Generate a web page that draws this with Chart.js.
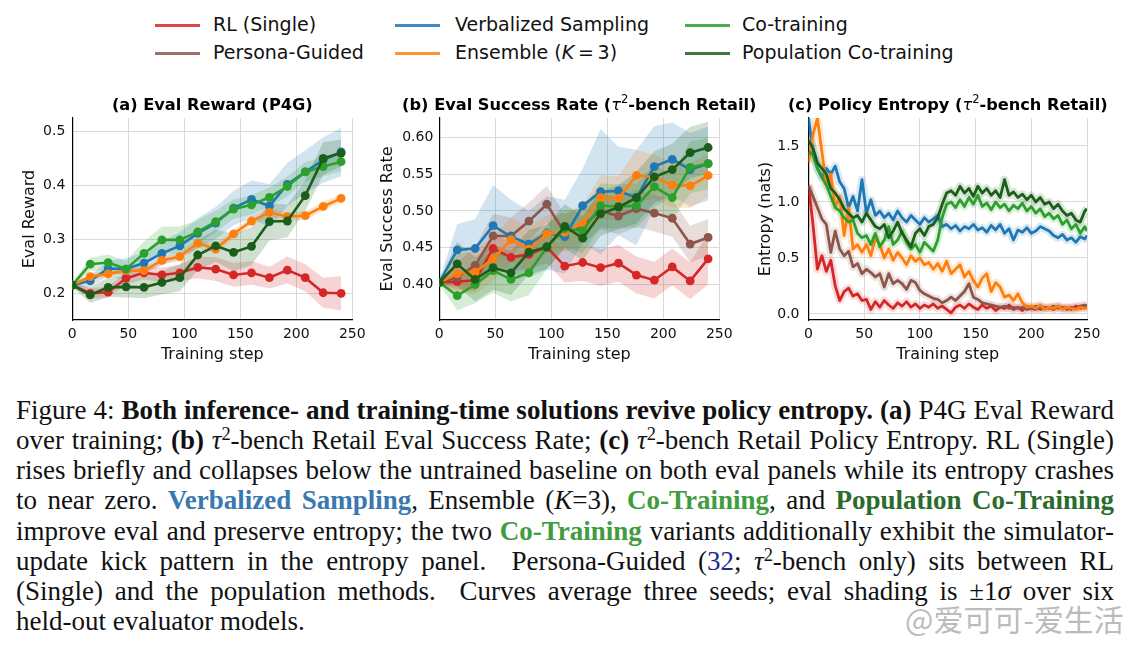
<!DOCTYPE html>
<html>
<head>
<meta charset="utf-8">
<script src="https://cdn.jsdelivr.net/npm/chart.js@4.4.1/dist/chart.umd.min.js"></script>
<style>
html, body { margin: 0; padding: 0; background: #fff; }
body { width: 1134px; height: 645px; position: relative; overflow: hidden; font-family: "DejaVu Sans"; }
canvas { position: absolute; }
.hd { position: absolute; height: 3px; width: 45px; }
.lt { position: absolute; font-size: 19px; line-height: 19px; color: #111; white-space: nowrap; }
#caption { position: absolute; left: 16px; top: 395px; width: 1098px; font-family: "Liberation Serif"; font-size: 27px; line-height: 30.15px; color: #111; }
#caption div { text-align: justify; text-align-last: justify; white-space: nowrap; }
#caption div.last { text-align-last: left; }
#caption sup { font-size: 0.68em; line-height: 0; vertical-align: 0.5em; }
.vs { color: #3a78b0; }
.ct { color: #3f9c3f; }
.pct { color: #2b6b2b; }
.cite { color: #1f2a8f; }
#wm { position: absolute; left: 905px; top: 600px; font-family: "Noto Sans CJK SC"; font-size: 30px; line-height: 36px; color: rgba(165,165,165,0.75); white-space: nowrap; }
</style>
</head>
<body>
<canvas id="panelA" width="372" height="280" style="left:0px;top:90px;width:372px;height:280px"></canvas>
<canvas id="panelB" width="400" height="280" style="left:372px;top:90px;width:400px;height:280px"></canvas>
<canvas id="panelC" width="382" height="280" style="left:752px;top:90px;width:382px;height:280px"></canvas>

<div id="legend"></div>

<div id="caption">
<div>Figure 4: <b>Both inference- and training-time solutions revive policy entropy.</b> <b>(a)</b> P4G Eval Reward</div>
<div>over training; <b>(b)</b> <i>τ</i><sup>2</sup>-bench Retail Eval Success Rate; <b>(c)</b> <i>τ</i><sup>2</sup>-bench Retail Policy Entropy. RL (Single)</div>
<div>rises briefly and collapses below the untrained baseline on both eval panels while its entropy crashes</div>
<div>to near zero. <b class="vs">Verbalized Sampling</b>, Ensemble (<i>K</i>=3), <b class="ct">Co-Training</b>, and <b class="pct">Population Co-Training</b></div>
<div>improve eval and preserve entropy; the two <b class="ct">Co-Training</b> variants additionally exhibit the simulator-</div>
<div>update kick pattern in the entropy panel.&nbsp; Persona-Guided (<span class="cite">32</span>; <i>τ</i><sup>2</sup>-bench only) sits between RL</div>
<div>(Single) and the population methods.&nbsp; Curves average three seeds; eval shading is ±1<i>σ</i> over six</div>
<div class="last">held-out evaluator models.</div>
</div>
<div id="wm">@爱可可-爱生活</div>

<script>
// ---- data ----
const evalSteps = [0, 16, 32, 48, 64, 80, 96, 112, 128, 144, 160, 176, 192, 208, 224, 240];

// (a) P4G eval reward, mean and +-1 sd
const p4gRL = [0.215, 0.200, 0.202, 0.228, 0.238, 0.234, 0.238, 0.248, 0.245, 0.234, 0.238, 0.229, 0.243, 0.229, 0.201, 0.200];
const p4gRLsd = [0.004, 0.010, 0.010, 0.012, 0.012, 0.014, 0.015, 0.020, 0.022, 0.022, 0.022, 0.020, 0.025, 0.025, 0.028, 0.032];
const p4gVS = [0.215, 0.223, 0.246, 0.245, 0.256, 0.274, 0.288, 0.311, 0.330, 0.358, 0.374, 0.362, 0.402, 0.425, 0.447, 0.462];
const p4gVSsd = [0.004, 0.010, 0.015, 0.020, 0.020, 0.022, 0.025, 0.028, 0.030, 0.032, 0.035, 0.040, 0.040, 0.040, 0.042, 0.045];
const p4gEns = [0.215, 0.231, 0.236, 0.242, 0.242, 0.261, 0.268, 0.293, 0.282, 0.310, 0.334, 0.350, 0.342, 0.344, 0.361, 0.376];
const p4gEnssd = [0.003, 0.006, 0.006, 0.006, 0.006, 0.007, 0.008, 0.008, 0.008, 0.008, 0.008, 0.008, 0.008, 0.008, 0.008, 0.008];
const p4gCT = [0.215, 0.254, 0.257, 0.245, 0.274, 0.299, 0.299, 0.314, 0.333, 0.356, 0.364, 0.378, 0.398, 0.425, 0.435, 0.444];
const p4gCTsd = [0.004, 0.012, 0.015, 0.015, 0.022, 0.025, 0.025, 0.022, 0.020, 0.018, 0.018, 0.018, 0.018, 0.018, 0.018, 0.018];
const p4gPCT = [0.215, 0.197, 0.211, 0.212, 0.211, 0.220, 0.229, 0.271, 0.288, 0.276, 0.287, 0.333, 0.334, 0.381, 0.450, 0.460];
const p4gPCTsd = [0.004, 0.015, 0.018, 0.020, 0.020, 0.022, 0.025, 0.028, 0.030, 0.035, 0.035, 0.035, 0.030, 0.028, 0.030, 0.025];

// (b) tau2-bench retail eval success rate
const tauRL = [0.403, 0.404, 0.406, 0.449, 0.437, 0.441, 0.451, 0.425, 0.430, 0.423, 0.429, 0.413, 0.406, 0.424, 0.405, 0.435];
const tauRLsd = [0.003, 0.010, 0.015, 0.020, 0.020, 0.020, 0.022, 0.022, 0.025, 0.025, 0.025, 0.025, 0.025, 0.025, 0.025, 0.035];
const tauPersona = [0.403, 0.410, 0.426, 0.466, 0.466, 0.486, 0.509, 0.470, 0.480, 0.500, 0.493, 0.503, 0.497, 0.490, 0.455, 0.464];
const tauPersonasd = [0.003, 0.020, 0.025, 0.030, 0.025, 0.025, 0.025, 0.025, 0.025, 0.025, 0.025, 0.025, 0.025, 0.025, 0.025, 0.025];
const tauVS = [0.403, 0.447, 0.449, 0.480, 0.465, 0.455, 0.470, 0.465, 0.507, 0.526, 0.527, 0.518, 0.560, 0.570, 0.556, 0.564];
const tauVSsd = [0.003, 0.035, 0.040, 0.055, 0.050, 0.045, 0.050, 0.050, 0.050, 0.085, 0.060, 0.065, 0.055, 0.050, 0.050, 0.050];
const tauEns = [0.403, 0.415, 0.417, 0.435, 0.461, 0.448, 0.469, 0.471, 0.483, 0.518, 0.517, 0.548, 0.546, 0.535, 0.534, 0.548];
const tauEnssd = [0.003, 0.025, 0.030, 0.030, 0.030, 0.030, 0.025, 0.025, 0.025, 0.030, 0.030, 0.035, 0.030, 0.030, 0.030, 0.030];
const tauCT = [0.403, 0.385, 0.400, 0.419, 0.407, 0.416, 0.451, 0.476, 0.473, 0.507, 0.506, 0.507, 0.533, 0.518, 0.559, 0.564];
const tauCTsd = [0.003, 0.020, 0.025, 0.030, 0.030, 0.030, 0.030, 0.025, 0.030, 0.030, 0.030, 0.030, 0.030, 0.030, 0.035, 0.035];
const tauPCT = [0.403, 0.428, 0.407, 0.423, 0.416, 0.444, 0.451, 0.479, 0.463, 0.496, 0.505, 0.518, 0.546, 0.556, 0.579, 0.586];
const tauPCTsd = [0.003, 0.030, 0.030, 0.030, 0.030, 0.030, 0.030, 0.030, 0.030, 0.030, 0.030, 0.035, 0.035, 0.035, 0.035, 0.035];

// (c) policy entropy (nats)
const entropySteps = [0, 4, 8, 12, 16, 20, 24, 28, 32, 36, 40, 44, 48, 52, 56, 60, 64, 68, 72, 76, 80, 84, 88, 92, 96, 100,
  104, 108, 112, 116, 120, 124, 128, 132, 136, 140, 144, 148, 152, 156, 160, 164, 168, 172, 176, 180, 184, 188, 192, 196,
  200, 204, 208, 212, 216, 220, 224, 228, 232, 236, 240, 244, 248, 250];
const entRL = [1.15, 0.80, 0.40, 0.52, 0.38, 0.48, 0.25, 0.12, 0.20, 0.23, 0.16, 0.18, 0.12, 0.13, 0.04, 0.11, 0.06, 0.12, 0.08, 0.05,
  0.10, 0.07, 0.11, 0.06, 0.09, 0.05, 0.08, 0.06, 0.09, 0.05, 0.07, 0.04, 0.01, 0.06, 0.08, 0.05, 0.09, 0.06, 0.04, 0.08,
  0.05, 0.07, 0.03, 0.06, 0.05, 0.08, 0.04, 0.06, 0.03, 0.07, 0.05, 0.04, 0.07, 0.05, 0.06, 0.04, 0.07, 0.05, 0.06, 0.04,
  0.07, 0.05, 0.06, 0.05];
const entPersona = [1.15, 1.05, 0.95, 0.85, 0.80, 0.55, 0.74, 0.58, 0.52, 0.56, 0.42, 0.45, 0.36, 0.40, 0.37, 0.33, 0.36, 0.24, 0.36, 0.27,
  0.30, 0.27, 0.22, 0.30, 0.28, 0.21, 0.18, 0.16, 0.14, 0.13, 0.10, 0.12, 0.15, 0.12, 0.16, 0.20, 0.27, 0.15, 0.13, 0.10,
  0.09, 0.08, 0.07, 0.06, 0.07, 0.05, 0.06, 0.05, 0.06, 0.04, 0.05, 0.07, 0.04, 0.06, 0.05, 0.07, 0.05, 0.06, 0.04, 0.06,
  0.05, 0.07, 0.08, 0.07];
const entVS = [1.75, 1.45, 1.30, 1.22, 1.30, 1.25, 1.32, 1.18, 1.12, 0.95, 1.05, 0.92, 1.20, 0.90, 1.02, 0.88, 0.92, 0.86, 0.90, 0.84,
  0.92, 0.86, 0.82, 0.88, 0.84, 0.80, 0.86, 0.82, 0.85, 0.88, 0.78, 0.80, 0.76, 0.79, 0.74, 0.78, 0.76, 0.80, 0.75, 0.77,
  0.73, 0.79, 0.75, 0.80, 0.72, 0.76, 0.66, 0.75, 0.73, 0.77, 0.72, 0.74, 0.78, 0.76, 0.74, 0.70, 0.68, 0.71, 0.66, 0.68,
  0.64, 0.69, 0.67, 0.70];
const entEns = [1.35, 1.60, 1.75, 1.45, 1.15, 1.25, 0.95, 1.05, 0.70, 0.95, 0.58, 0.62, 0.55, 0.62, 0.52, 0.68, 0.62, 0.50, 0.58, 0.48,
  0.55, 0.50, 0.44, 0.52, 0.47, 0.50, 0.44, 0.46, 0.40, 0.45, 0.38, 0.47, 0.36, 0.40, 0.44, 0.33, 0.38, 0.30, 0.24, 0.32,
  0.36, 0.20, 0.28, 0.24, 0.15, 0.17, 0.12, 0.18, 0.10, 0.06, 0.07, 0.05, 0.08, 0.04, 0.06, 0.05, 0.07, 0.04, 0.06, 0.05,
  0.04, 0.06, 0.05, 0.05];
const entCT = [1.45, 1.42, 1.30, 1.22, 1.15, 1.05, 0.95, 0.92, 0.86, 0.82, 0.84, 0.72, 0.68, 0.70, 0.62, 0.72, 0.60, 0.66, 0.78, 0.62,
  0.66, 0.74, 0.64, 0.58, 0.62, 0.55, 0.64, 0.60, 0.56, 0.66, 0.86, 0.98, 1.00, 0.95, 1.02, 0.96, 1.04, 0.98, 1.06, 0.96,
  0.99, 0.93, 1.00, 0.95, 0.98, 0.92, 0.97, 0.94, 0.99, 0.92, 0.96, 0.90, 0.94, 0.87, 0.90, 0.85, 0.88, 0.80, 0.84, 0.76,
  0.80, 0.72, 0.78, 0.74];
const entPCT = [1.55, 1.48, 1.35, 1.30, 1.25, 1.12, 1.08, 1.02, 0.94, 0.90, 0.86, 0.88, 0.82, 0.90, 0.84, 0.78, 0.76, 0.80, 0.68, 0.74,
  0.82, 0.72, 0.66, 0.60, 0.72, 0.76, 0.70, 0.78, 0.80, 0.86, 0.98, 1.08, 1.10, 1.06, 1.14, 1.08, 1.12, 1.05, 1.14, 1.08,
  1.12, 1.06, 1.10, 1.04, 1.20, 1.06, 1.09, 1.04, 1.07, 1.02, 1.06, 1.00, 1.04, 0.98, 1.00, 0.94, 0.98, 0.92, 0.88, 0.90,
  0.84, 0.82, 0.92, 0.94];

// ticks
const xTicks = [0, 50, 100, 150, 200, 250];
const rewardTicks = [0.2, 0.3, 0.4, 0.5];
const successTicks = [0.40, 0.45, 0.50, 0.55, 0.60];
const entropyTicks = [0.0, 0.5, 1.0, 1.5];

// ---- styling ----
const C = {
  rl: '#d62728', persona: '#8c564b', vs: '#1f77b4',
  ens: '#ff7f0e', ct: '#2ca02c', pct: '#1a5e1a'
};
const legendItems = [
  { key: 'rl', label: 'RL (Single)', hx: 155, tx: 213, y: 25 },
  { key: 'persona', label: 'Persona-Guided', hx: 155, tx: 213, y: 53 },
  { key: 'vs', label: 'Verbalized Sampling', hx: 395, tx: 455, y: 25 },
  { key: 'ens', label: 'Ensemble (<i>K</i>\u2009=\u20093)', hx: 395, tx: 455, y: 53 },
  { key: 'ct', label: 'Co-training', hx: 685, tx: 742, y: 25 },
  { key: 'pct', label: 'Population Co-training', hx: 685, tx: 742, y: 53 }
];

function rgba(hex, a) {
  const n = parseInt(hex.slice(1), 16);
  return `rgba(${(n >> 16) & 255},${(n >> 8) & 255},${n & 255},${a})`;
}

const legend = document.getElementById('legend');
legendItems.forEach(it => {
  const h = document.createElement('div');
  h.className = 'hd';
  h.style.left = it.hx + 'px';
  h.style.top = (it.y - 1.5) + 'px';
  h.style.background = rgba(C[it.key], 0.85);
  legend.appendChild(h);
  const t = document.createElement('div');
  t.className = 'lt';
  t.style.left = it.tx + 'px';
  t.style.top = (it.y - 10) + 'px';
  t.innerHTML = it.label;
  legend.appendChild(t);
});

Chart.defaults.font.family = '"DejaVu Sans"';
Chart.defaults.color = '#111';

// titles drawn centred over the plot area, with a little rich text for tau^2
const panelTitle = {
  id: 'panelTitle',
  afterDraw(chart, args, opts) {
    const { ctx, chartArea } = chart;
    const fonts = {
      b: 'bold 16.2px "DejaVu Sans"',
      i: 'oblique 16.2px "DejaVu Sans"',
      sup: '11.5px "DejaVu Sans"'
    };
    ctx.save();
    ctx.textBaseline = 'middle';
    ctx.fillStyle = '#000';
    let total = 0;
    opts.parts.forEach(p => { ctx.font = fonts[p.f]; total += ctx.measureText(p.t).width; });
    let x = (chartArea.left + chartArea.right) / 2 - total / 2;
    const y = chartArea.top - 12;
    opts.parts.forEach(p => {
      ctx.font = fonts[p.f];
      ctx.textAlign = 'left';
      ctx.fillText(p.t, x, p.f === 'sup' ? y - 6 : y);
      x += ctx.measureText(p.t).width;
    });
    ctx.restore();
  }
};

function evalSeries(mean, sd, color, order) {
  const up = evalSteps.map((s, i) => ({ x: s, y: mean[i] + sd[i] }));
  const lo = evalSteps.map((s, i) => ({ x: s, y: mean[i] - sd[i] }));
  return [
    { data: up, borderWidth: 0, borderColor: 'rgba(0,0,0,0)', pointRadius: 0, fill: false, order: 100 },
    { data: lo, borderWidth: 0, borderColor: 'rgba(0,0,0,0)', pointRadius: 0, fill: '-1', backgroundColor: rgba(color, 0.2), order: 100 },
    { data: evalSteps.map((s, i) => ({ x: s, y: mean[i] })), borderColor: color, backgroundColor: color,
      borderWidth: 2.6, pointRadius: 4.4, pointBackgroundColor: color, pointBorderWidth: 0, fill: false, order: order }
  ];
}

function entropySeries(vals, color, order) {
  const pts = entropySteps.map((s, i) => ({ x: s, y: vals[i] }));
  return [
    { data: pts, borderColor: rgba(color, 0.16), borderWidth: 8, pointRadius: 0, fill: false, order: 50, borderJoinStyle: 'round' },
    { data: pts, borderColor: color, borderWidth: 2.8, pointRadius: 0, fill: false, order: order, borderJoinStyle: 'round' }
  ];
}

function scales(cfg) {
  const grid = { color: '#d6d6d6', lineWidth: 0.9, drawTicks: false };
  const border = { display: true, color: '#000', width: 1.2 };
  return {
    x: {
      type: 'linear', min: 0, max: 250,
      afterBuildTicks: s => { s.ticks = xTicks.map(v => ({ value: v })); },
      afterFit: s => { s.height = 50; },
      grid, border,
      ticks: { padding: 6, font: { size: 14 }, maxRotation: 0, autoSkip: false, color: '#111' },
      title: { display: true, text: 'Training step', font: { size: 16 }, color: '#111', padding: { top: 0, bottom: 6 } }
    },
    y: {
      min: cfg.min, max: cfg.max,
      afterBuildTicks: s => { s.ticks = cfg.ticks.map(v => ({ value: v })); },
      afterFit: s => { s.width = cfg.width; },
      grid, border,
      ticks: { padding: cfg.tickPad, font: { size: 14 }, color: '#111', callback: v => Number(v).toFixed(cfg.dec) },
      title: { display: true, text: cfg.title, font: { size: 16 }, color: '#111', padding: { top: cfg.titlePad, bottom: 0 } }
    }
  };
}

function makeChart(id, datasets, sc, pad, parts) {
  new Chart(document.getElementById(id), {
    type: 'line',
    data: { datasets },
    options: {
      responsive: false,
      animation: false,
      events: [],
      layout: { padding: pad, autoPadding: false },
      scales: sc,
      plugins: { legend: { display: false }, tooltip: { enabled: false }, panelTitle: { parts } }
    },
    plugins: [panelTitle]
  });
}

makeChart('panelA', [
  ...evalSeries(p4gPCT, p4gPCTsd, C.pct, 1),
  ...evalSeries(p4gCT, p4gCTsd, C.ct, 2),
  ...evalSeries(p4gEns, p4gEnssd, C.ens, 3),
  ...evalSeries(p4gVS, p4gVSsd, C.vs, 4),
  ...evalSeries(p4gRL, p4gRLsd, C.rl, 6)
], scales({ min: 0.1505, max: 0.525, ticks: rewardTicks, dec: 1, title: 'Eval Reward', width: 72.3, tickPad: 7, titlePad: 20 }),
  { top: 28, right: 19.7, left: 0, bottom: 0 },
  [{ t: '(a) Eval Reward (P4G)', f: 'b' }]);

makeChart('panelB', [
  ...evalSeries(tauPCT, tauPCTsd, C.pct, 1),
  ...evalSeries(tauCT, tauCTsd, C.ct, 2),
  ...evalSeries(tauEns, tauEnssd, C.ens, 3),
  ...evalSeries(tauVS, tauVSsd, C.vs, 4),
  ...evalSeries(tauPersona, tauPersonasd, C.persona, 5),
  ...evalSeries(tauRL, tauRLsd, C.rl, 6)
], scales({ min: 0.352, max: 0.626, ticks: successTicks, dec: 2, title: 'Eval Success Rate', width: 67.3, tickPad: 6, titlePad: 6 }),
  { top: 28, right: 52.7, left: 0, bottom: 0 },
  [{ t: '(b) Eval Success Rate (', f: 'b' }, { t: 'τ', f: 'i' }, { t: '2', f: 'sup' }, { t: '-bench Retail)', f: 'b' }]);

makeChart('panelC', [
  ...entropySeries(entPCT, C.pct, 1),
  ...entropySeries(entCT, C.ct, 2),
  ...entropySeries(entEns, C.ens, 3),
  ...entropySeries(entVS, C.vs, 4),
  ...entropySeries(entPersona, C.persona, 5),
  ...entropySeries(entRL, C.rl, 6)
], scales({ min: -0.054, max: 1.75, ticks: entropyTicks, dec: 1, title: 'Entropy (nats)', width: 56.5, tickPad: 9, titlePad: 4 }),
  { top: 28, right: 47, left: 0, bottom: 0 },
  [{ t: '(c) Policy Entropy (', f: 'b' }, { t: 'τ', f: 'i' }, { t: '2', f: 'sup' }, { t: '-bench Retail)', f: 'b' }]);
</script>
</body>
</html>
